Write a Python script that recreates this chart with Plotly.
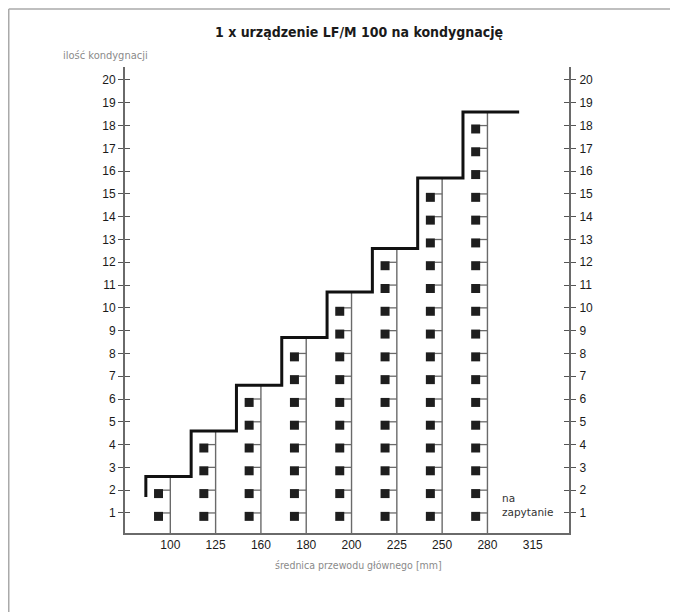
import plotly.graph_objects as go

# ---- data ----
diameters = ["100", "125", "160", "180", "200", "225", "250", "280", "315"]
floors_count = [2, 4, 6, 8, 10, 12, 15, 18]          # floors served per diameter (100..280)
step_levels = [2.6, 4.6, 6.6, 8.7, 10.7, 12.6, 15.7, 18.6]  # staircase level per diameter
stair_start = 1.7
y_ticks = list(range(1, 21))
note_lines = ["na", "zapytanie"]

title_text = "1 x urządzenie LF/M 100 na kondygnację"
y_title = "ilość kondygnacji"
x_title = "średnica przewodu głównego [mm]"

Y0, Y1 = 0.12, 20.57
X0, X1 = -1.0, 8.8

COND = "DejaVu Sans Condensed, DejaVu Sans, sans-serif"
AX = "Liberation Sans, Arial, sans-serif"

fig = go.Figure()

# column lines
cx, cy = [], []
for i, lvl in enumerate(step_levels):
    cx += [i, i, None]
    cy += [Y0, lvl, None]
fig.add_trace(go.Scatter(x=cx, y=cy, mode="lines",
                         line=dict(color="#6a6a6a", width=1.4),
                         hoverinfo="skip", showlegend=False))

# flags: short line to the column + square
fx, fy, sx, sy = [], [], [], []
for i, n in enumerate(floors_count):
    for k in range(1, n + 1):
        fx += [i - 0.17, i, None]
        fy += [k, k, None]
        sx.append(i - 0.26)
        sy.append(k - 0.15)
fig.add_trace(go.Scatter(x=fx, y=fy, mode="lines",
                         line=dict(color="#6a6a6a", width=1.3),
                         hoverinfo="skip", showlegend=False))
fig.add_trace(go.Scatter(x=sx, y=sy, mode="markers",
                         marker=dict(symbol="square", size=9, color="#1e1e1e",
                                     line=dict(width=0)),
                         hoverinfo="skip", showlegend=False))

# staircase
stx, sty = [-0.54], [stair_start]
for i, lvl in enumerate(step_levels):
    stx += [i - 0.54, i + 0.46]
    sty += [lvl, lvl]
stx[-1] = len(step_levels) - 0.3
fig.add_trace(go.Scatter(x=stx, y=sty, mode="lines",
                         line=dict(color="#111111", width=3),
                         hoverinfo="skip", showlegend=False))

# dummy traces for the extra axes
for ya in ["y2", "y3", "y4"]:
    fig.add_trace(go.Scatter(x=[None], y=[None], yaxis=ya, showlegend=False,
                             hoverinfo="skip"))

# note text
NOTE = "DejaVu Sans, sans-serif"
fig.add_annotation(x=7.28, y=1.65, text=note_lines[0], showarrow=False,
                   xanchor="left", yanchor="middle",
                   font=dict(family=NOTE, size=10.5, color="#333"))
fig.add_annotation(x=7.28, y=1.02, text=note_lines[1], showarrow=False,
                   xanchor="left", yanchor="middle",
                   font=dict(family=NOTE, size=10.5, color="#333"))

# titles
fig.add_annotation(xref="paper", yref="paper", x=0.527, y=1.0, yshift=35,
                   text="<b>" + title_text + "</b>", showarrow=False,
                   xanchor="center", yanchor="middle",
                   font=dict(family=COND, size=14, color="#1a1a1a"))
fig.add_annotation(xref="paper", yref="paper", x=-0.043, y=1.0, yshift=12,
                   text=y_title, showarrow=False, xanchor="center", yanchor="middle",
                   font=dict(family=COND, size=11, color="#8a8a8a"))
fig.add_annotation(xref="paper", yref="paper", x=0.525, y=0.0, yshift=-32,
                   text=x_title, showarrow=False, xanchor="center", yanchor="middle",
                   font=dict(family=COND, size=10.5, color="#8a8a8a"))

# frame (top and left)
FX = (0.75 - 117) / 444
FY = 1 + 58 / 466
fig.add_shape(type="line", xref="paper", yref="paper",
              x0=FX, x1=1.3, y0=FY, y1=FY,
              line=dict(color="#aaaaaa", width=1.5))
fig.add_shape(type="line", xref="paper", yref="paper",
              x0=FX, x1=FX, y0=FY, y1=-0.3,
              line=dict(color="#aaaaaa", width=1.5))

tickfont = dict(family=AX, size=12, color="#1a1a1a")
common_y = dict(range=[Y0, Y1], tickmode="array", tickvals=y_ticks,
                showgrid=False, zeroline=False, showline=True,
                linecolor="#6a6a6a", linewidth=2, ticklen=5, tickwidth=1.4,
                tickcolor="#555")

fig.update_layout(
    width=670, height=604,
    margin=dict(l=117, r=109, t=59, b=79),
    plot_bgcolor="white", paper_bgcolor="white",
    xaxis=dict(range=[X0, X1], tickmode="array",
               tickvals=list(range(len(diameters))), ticktext=diameters,
               showgrid=False, zeroline=False, showline=True,
               linecolor="#6a6a6a", linewidth=2, ticks="",
               tickfont=tickfont),
    yaxis=dict(**common_y, side="left", ticks="outside", tickfont=tickfont,
               ticklabelstandoff=0),
    yaxis2=dict(**common_y, side="right", overlaying="y", ticks="outside",
                tickfont=tickfont, ticklabelstandoff=1),
    yaxis3=dict(**common_y, side="left", overlaying="y", ticks="inside",
                showticklabels=False),
    yaxis4=dict(**common_y, side="right", overlaying="y", ticks="inside",
                showticklabels=False),
)

fig.write_html("out.html")
